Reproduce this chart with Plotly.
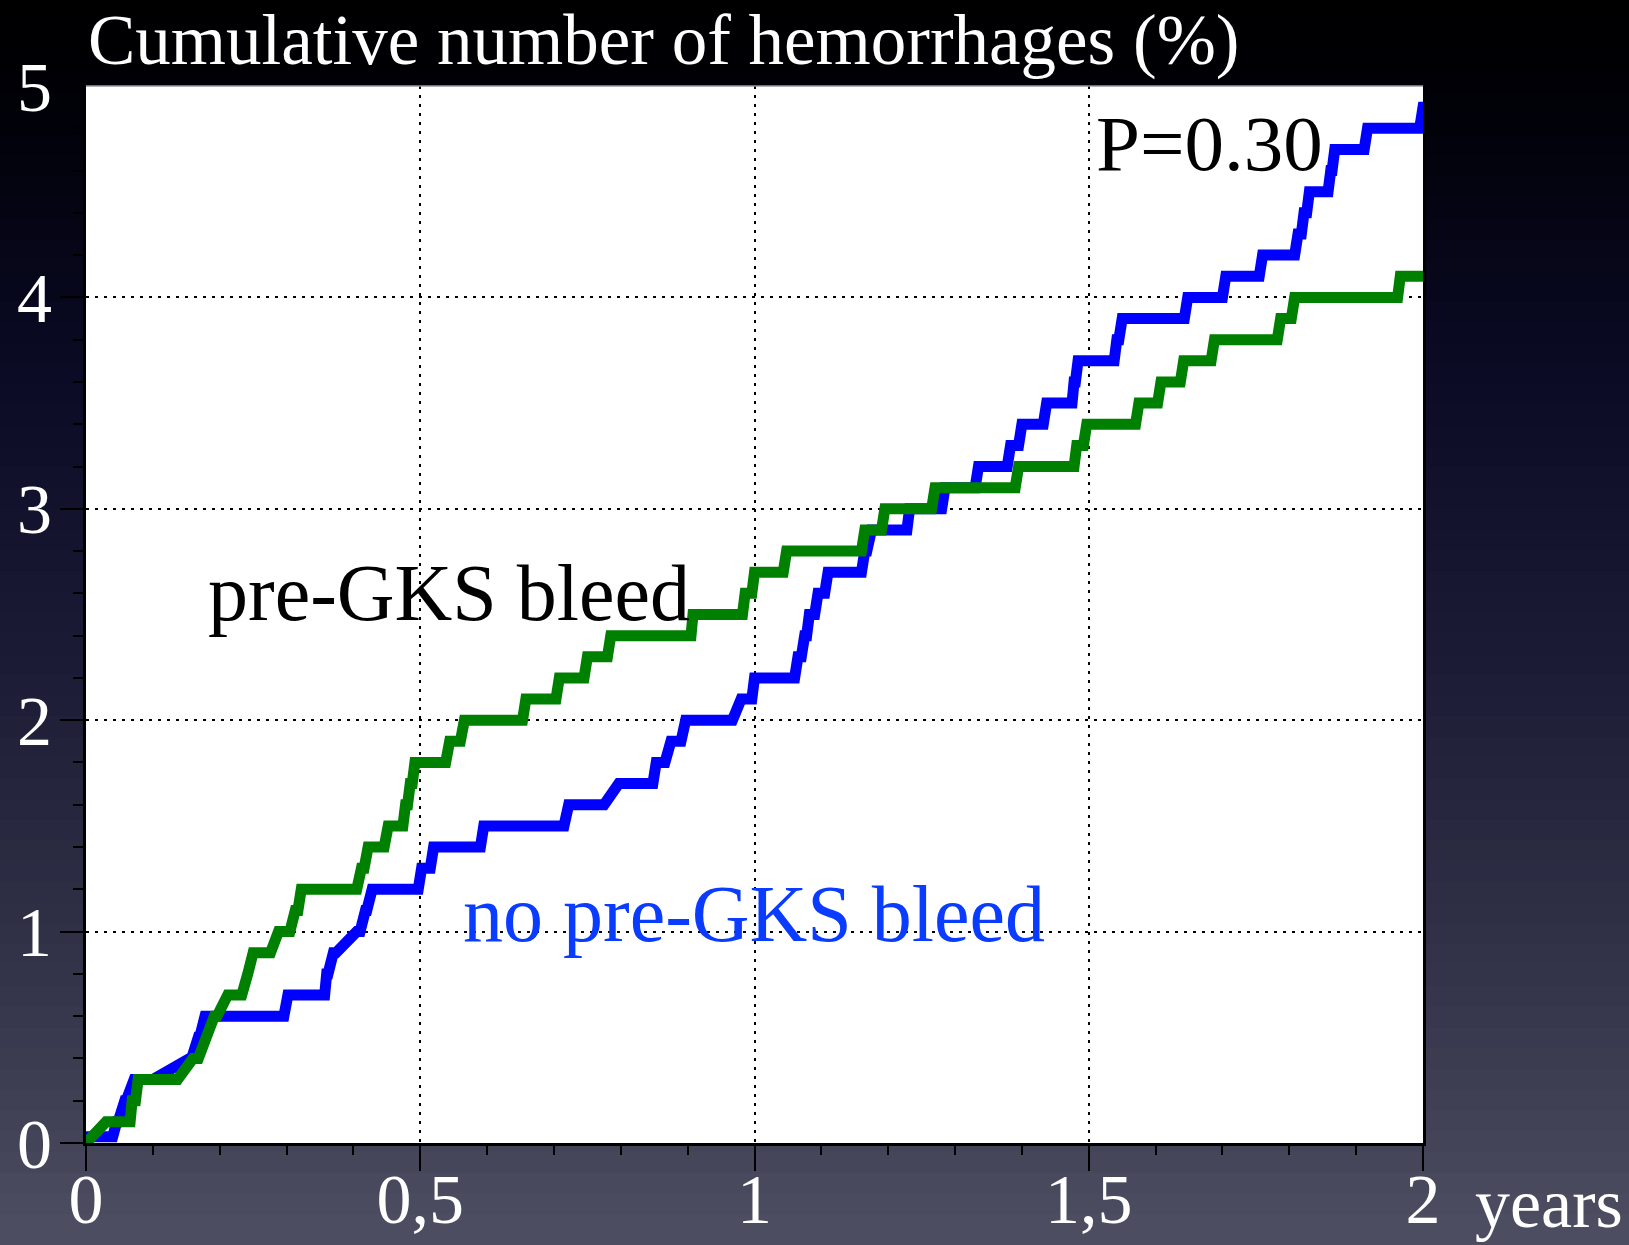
import plotly.graph_objects as go

# ----- data (years, cumulative %) -----
# each step: level, time where the level starts, time where it ends
green_level = [0.0, 0.1, 0.2, 0.3, 0.4, 0.5, 0.6, 0.7, 0.8, 0.9, 1.0, 1.1, 1.2, 1.3, 1.4,
               1.5, 1.6, 1.7, 1.8, 1.9, 2.0, 2.1, 2.2, 2.3, 2.4, 2.5, 2.6, 2.7, 2.8, 2.9,
               3.0, 3.1, 3.2, 3.3, 3.4, 3.5, 3.6, 3.7, 3.8, 3.9, 4.0, 4.1]
green_start = [0.0, 0.03, 0.069, 0.078, 0.16, 0.178, 0.192, 0.212, 0.238, 0.25, 0.288, 0.313,
               0.322, 0.412, 0.422, 0.452, 0.478, 0.485, 0.492, 0.544, 0.566, 0.658, 0.708,
               0.75, 0.785, 0.908, 0.986, 1.0, 1.048, 1.165, 1.195, 1.27, 1.395, 1.482,
               1.497, 1.575, 1.608, 1.642, 1.688, 1.787, 1.808, 1.966]
green_end = [0.0, 0.066, 0.074, 0.137, 0.168, 0.182, 0.196, 0.233, 0.242, 0.276, 0.305, 0.317,
             0.405, 0.416, 0.446, 0.474, 0.481, 0.488, 0.538, 0.56, 0.653, 0.703, 0.745,
             0.78, 0.905, 0.982, 0.996, 1.043, 1.16, 1.19, 1.265, 1.39, 1.478, 1.492,
             1.57, 1.603, 1.637, 1.683, 1.782, 1.803, 1.962, 2.02]

blue_level = [0.03, 0.1, 0.2, 0.3, 0.4, 0.5, 0.6, 0.7, 0.8, 0.9, 1.0, 1.1, 1.2, 1.3, 1.4,
              1.5, 1.6, 1.7, 1.8, 1.9, 2.0, 2.1, 2.2, 2.3, 2.4, 2.5, 2.6, 2.7, 2.8, 2.9,
              3.0, 3.1, 3.2, 3.3, 3.4, 3.5, 3.6, 3.7, 3.8, 3.9, 4.0, 4.1, 4.2, 4.3, 4.4,
              4.5, 4.6, 4.7, 4.8, 4.9]
blue_start = [0.0, 0.046, 0.058, 0.072, 0.155, 0.168, 0.178, 0.302, 0.36, 0.37, 0.405, 0.418,
              0.428, 0.502, 0.52, 0.595, 0.722, 0.797, 0.853, 0.875, 0.897, 0.98, 1.0,
              1.065, 1.075, 1.082, 1.095, 1.11, 1.165, 1.175, 1.232, 1.285, 1.335, 1.383,
              1.4, 1.437, 1.478, 1.484, 1.542, 1.55, 1.648, 1.705, 1.76, 1.813, 1.822,
              1.83, 1.862, 1.868, 1.917, 2.0]
blue_end = [0.04, 0.048, 0.06, 0.1, 0.158, 0.17, 0.296, 0.357, 0.362, 0.374, 0.41, 0.42,
            0.497, 0.515, 0.59, 0.715, 0.775, 0.848, 0.866, 0.89, 0.967, 0.996, 1.06,
            1.07, 1.078, 1.09, 1.105, 1.16, 1.168, 1.228, 1.28, 1.33, 1.378, 1.395,
            1.432, 1.475, 1.48, 1.538, 1.545, 1.643, 1.70, 1.755, 1.808, 1.818, 1.826,
            1.858, 1.864, 1.912, 1.995, 2.02]

title_text = "Cumulative number of hemorrhages (%)"
label_pre = "pre-GKS bleed"
label_nopre = "no pre-GKS bleed"
p_text = "P=0.30"
x_unit = "years"


def step_path(levels, starts, ends):
    xs, ys = [], []
    for lv, s, e in zip(levels, starts, ends):
        xs += [s, e]
        ys += [lv, lv]
    return xs, ys


serif = "Liberation Serif, Times New Roman, serif"

fig = go.Figure()

bx, by = step_path(blue_level, blue_start, blue_end)
gx, gy = step_path(green_level, green_start, green_end)
fig.add_trace(go.Scatter(x=bx, y=by, mode="lines", line=dict(color="#0000ff", width=11),
                         showlegend=False, hoverinfo="skip"))
fig.add_trace(go.Scatter(x=gx, y=gy, mode="lines", line=dict(color="#008000", width=11),
                         showlegend=False, hoverinfo="skip"))

# dark slide background, vertical gradient made of thin bands
stops = [(0.0, (0, 0, 0)), (0.08, (0, 0, 6)), (0.3, (10, 10, 36)), (0.55, (28, 28, 54)),
         (0.8, (52, 52, 74)), (1.0, (78, 78, 98))]


def grad(t):
    for (t0, c0), (t1, c1) in zip(stops[:-1], stops[1:]):
        if t <= t1:
            f = (t - t0) / (t1 - t0)
            return "rgb(%d,%d,%d)" % tuple(round(a + (b - a) * f) for a, b in zip(c0, c1))
    return "rgb(%d,%d,%d)" % stops[-1][1]


top_p, bot_p = 1143 / 1057, (1143 - 1245) / 1057
n = 60
step = (top_p - bot_p) / n
for i in range(n):
    y_hi = top_p - step * i + step * 0.5
    y_lo = top_p - step * (i + 1)
    fig.add_shape(type="rect", xref="paper", yref="paper", x0=-0.1, x1=1.2, y0=y_lo, y1=y_hi,
                  fillcolor=grad((i + 0.5) / n), line_width=0, layer="below")

# white plotting area on top of the background bands
fig.add_shape(type="rect", xref="paper", yref="paper", x0=0, x1=1, y0=0, y1=1,
              fillcolor="white", line_width=0, layer="below")

# thin grey top border of the plot frame
fig.add_shape(type="line", xref="paper", yref="paper", x0=0, x1=1, y0=1, y1=1,
              line=dict(color="#9a9a9a", width=1.5))

fig.add_annotation(text=title_text, xref="paper", yref="paper", x=0.0, y=1.0435,
                   xanchor="left", yanchor="middle", showarrow=False,
                   font=dict(family=serif, size=71, color="white"))
fig.add_annotation(text=label_pre, x=0.18, y=2.6, xanchor="left", yanchor="middle",
                   showarrow=False, font=dict(family=serif, size=80, color="black"))
fig.add_annotation(text=label_nopre, x=0.561, y=1.085, xanchor="left", yanchor="middle",
                   showarrow=False, font=dict(family=serif, size=80, color="#0a3cff"))
fig.add_annotation(text=p_text, x=1.508, y=4.73, xanchor="left", yanchor="middle",
                   showarrow=False, font=dict(family=serif, size=79, color="black"))
fig.add_annotation(text=x_unit, xref="paper", yref="paper", x=1.0374, y=-0.0568,
                   xanchor="left", yanchor="middle", showarrow=False,
                   font=dict(family=serif, size=70, color="white"))

fig.update_xaxes(range=[0, 2], dtick=0.5, tick0=0, showgrid=True, gridcolor="black",
                 griddash="3px,6px", gridwidth=1.5, zeroline=False, automargin=False,
                 showline=True, linecolor="black", linewidth=3,
                 ticks="outside", ticklen=25, tickwidth=2, tickcolor="black",
                 ticklabelstandoff=-32,
                 minor=dict(dtick=0.1, ticks="outside", ticklen=9, tickwidth=1.5,
                            tickcolor="black", showgrid=False),
                 tickfont=dict(family=serif, size=70, color="white"),
                 fixedrange=True)
fig.update_yaxes(range=[0, 5], dtick=1, tick0=0, showgrid=True, gridcolor="black",
                 griddash="3px,6px", gridwidth=1.5, zeroline=False, automargin=False,
                 showline=True, linecolor="black", linewidth=3, mirror=True,
                 ticks="outside", ticklen=23, tickwidth=2, tickcolor="black",
                 ticklabelstandoff=-6,
                 minor=dict(dtick=0.2, ticks="outside", ticklen=10, tickwidth=1.5,
                            tickcolor="black", showgrid=False),
                 tickfont=dict(family=serif, size=70, color="white"),
                 fixedrange=True)

fig.update_layout(width=1629, height=1245,
                  margin=dict(l=86, r=206, t=86, b=102, autoexpand=False),
                  paper_bgcolor="black", plot_bgcolor="white",
                  separators=", ", showlegend=False)

fig.write_html("out.html", config={"displayModeBar": False},
               post_script="document.body.style.margin='0';")
